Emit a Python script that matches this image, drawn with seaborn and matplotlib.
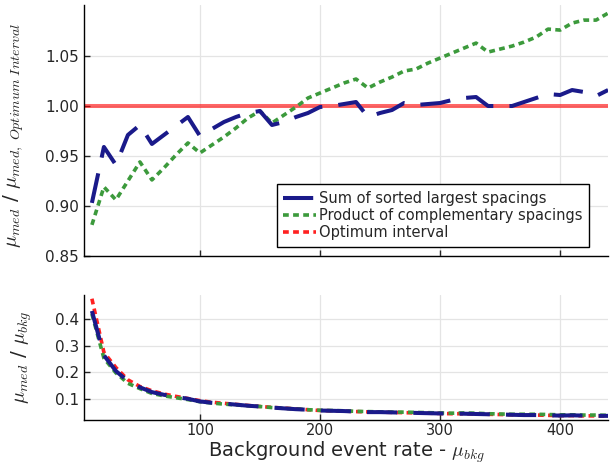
import numpy as np
import pandas as pd
import matplotlib
matplotlib.use("Agg")
import matplotlib.pyplot as plt
import seaborn as sns

sns.set_style("white")
plt.rcParams['font.family'] = ['DejaVu Sans']
plt.rcParams['mathtext.fontset'] = 'cm'

# background rates
mu_bkg = [10, 20, 30, 40, 50, 60, 70, 80, 90, 100,
          110, 120, 130, 140, 150, 160, 170, 180, 190, 200,
          210, 220, 230, 240, 250, 260, 270, 280, 290, 300,
          310, 320, 330, 340, 350, 360, 370, 380, 390, 400,
          410, 420, 430, 440]

# ratio to optimum interval (top panel)
ratio_sum = [0.903, 0.959, 0.941, 0.971, 0.981, 0.962, 0.971, 0.980, 0.989, 0.970,
             0.977, 0.984, 0.989, 0.993, 0.995, 0.981, 0.984, 0.989, 0.993, 0.999,
             1.000, 1.002, 1.004, 0.989, 0.993, 0.996, 1.003, 1.001, 1.002, 1.003,
             1.006, 1.008, 1.009, 1.000, 1.000, 1.000, 1.004, 1.008, 1.012, 1.011,
             1.016, 1.014, 1.010, 1.016]
ratio_prod = [0.881, 0.919, 0.906, 0.925, 0.944, 0.926, 0.938, 0.951, 0.963, 0.953,
              0.961, 0.969, 0.978, 0.988, 0.995, 0.983, 0.991, 0.999, 1.008, 1.013,
              1.018, 1.023, 1.027, 1.018, 1.024, 1.029, 1.035, 1.037, 1.043, 1.048,
              1.053, 1.058, 1.063, 1.054, 1.057, 1.060, 1.064, 1.069, 1.077, 1.076,
              1.083, 1.086, 1.086, 1.093]

# mu_med / mu_bkg (bottom panel)
rel_opt = [0.476, 0.275, 0.218, 0.172, 0.147, 0.131, 0.119, 0.110, 0.102, 0.094,
           0.088, 0.084, 0.080, 0.076, 0.072, 0.069, 0.066, 0.063, 0.060, 0.057,
           0.056, 0.055, 0.053, 0.052, 0.051, 0.050, 0.049, 0.048, 0.047, 0.046,
           0.045, 0.045, 0.044, 0.043, 0.042, 0.041, 0.040, 0.040, 0.039, 0.038,
           0.038, 0.037, 0.037, 0.036]
rel_sum = [0.430, 0.264, 0.205, 0.167, 0.144, 0.126, 0.116, 0.108, 0.101, 0.091,
           0.086, 0.083, 0.079, 0.075, 0.072, 0.068, 0.065, 0.062, 0.060, 0.057,
           0.056, 0.055, 0.053, 0.051, 0.051, 0.050, 0.049, 0.048, 0.047, 0.046,
           0.045, 0.045, 0.044, 0.043, 0.042, 0.041, 0.040, 0.040, 0.039, 0.038,
           0.039, 0.038, 0.037, 0.037]
rel_prod = [0.419, 0.253, 0.198, 0.159, 0.139, 0.121, 0.112, 0.105, 0.098, 0.090,
            0.085, 0.081, 0.078, 0.075, 0.072, 0.068, 0.065, 0.063, 0.060, 0.058,
            0.057, 0.056, 0.054, 0.053, 0.052, 0.051, 0.051, 0.050, 0.049, 0.048,
            0.047, 0.048, 0.047, 0.045, 0.044, 0.043, 0.043, 0.043, 0.042, 0.041,
            0.041, 0.040, 0.040, 0.039]

labels = ["Sum of sorted largest spacings", "Product of complementary spacings", "Optimum interval"]

blue = "#1a1a8a"
green = "#3c9a3c"
red = "#ff2020"
dash_long = (0, (7.5, 4))
dash_dot = (0, (1.6, 1.2))

fig = plt.figure(figsize=(6.13, 4.66), dpi=100)
ax1 = fig.add_axes([0.137, 0.451, 0.855, 0.538])
ax2 = fig.add_axes([0.137, 0.099, 0.855, 0.268])

# top panel
ax1.axhline(1.0, color="red", alpha=0.6, lw=2.9, zorder=2)
sns.lineplot(x=mu_bkg, y=ratio_prod, ax=ax1, color=green, lw=2.6, linestyle=dash_dot, zorder=3)
sns.lineplot(x=mu_bkg, y=ratio_sum, ax=ax1, color=blue, lw=2.9, linestyle=dash_long, zorder=4)

# bottom panel
sns.lineplot(x=mu_bkg, y=rel_opt, ax=ax2, color=red, lw=2.6, linestyle=dash_dot, zorder=2, label=labels[2])
sns.lineplot(x=mu_bkg, y=rel_prod, ax=ax2, color=green, lw=2.6, linestyle=dash_dot, zorder=3, label=labels[1])
sns.lineplot(x=mu_bkg, y=rel_sum, ax=ax2, color=blue, lw=2.9, linestyle=dash_long, zorder=4, label=labels[0])
handles, lbls = ax2.get_legend_handles_labels()
ax2.get_legend().remove()

for ax in (ax1, ax2):
    ax.set_xlim(3.4, 440)
    ax.set_xticks([100, 200, 300, 400])
    ax.grid(True, color="#e4e4e4", lw=0.9)
    ax.set_axisbelow(True)
    for s in ("top", "right"):
        ax.spines[s].set_visible(False)
    for s in ("left", "bottom"):
        ax.spines[s].set_color("black")
        ax.spines[s].set_linewidth(1.0)
    ax.tick_params(direction="in", length=4, width=1, labelsize=11, left=True, bottom=True)

ax1.set_ylim(0.85, 1.101)
ax1.set_yticks([0.85, 0.90, 0.95, 1.00, 1.05])
ax1.set_yticklabels(["0.85", "0.90", "0.95", "1.00", "1.05"])
ax1.tick_params(labelbottom=False)
ax1.set_ylabel(r"$\mu_{med}$ / $\mu_{med,\ Optimum\ Interval}$", fontsize=14.5)
ax1.yaxis.set_label_coords(-0.11, 0.48)

ax2.set_ylim(0.022, 0.49)
ax2.set_yticks([0.1, 0.2, 0.3, 0.4])
ax2.set_yticklabels(["0.1", "0.2", "0.3", "0.4"])
ax2.tick_params(axis="x", labelsize=10.5, pad=2)
ax2.set_ylabel(r"$\mu_{med}$ / $\mu_{bkg}$", fontsize=14.5)
ax2.yaxis.set_label_coords(-0.095, 0.5)
ax2.set_xlabel(r"Background event rate - $\mu_{bkg}$", fontsize=14)
ax2.xaxis.set_label_coords(0.5, -0.155)

order = [lbls.index(l) for l in labels]
leg = ax1.legend([handles[i] for i in order], labels, loc="lower right",
                 bbox_to_anchor=(0.964, 0.036), borderaxespad=0, fontsize=10.5,
                 frameon=True, fancybox=False, framealpha=1, edgecolor="black",
                 handlelength=2.2, handletextpad=0.25, labelspacing=0.15,
                 borderpad=0.45)
leg.get_frame().set_linewidth(1.0)

fig.savefig("out.png", dpi=100)
